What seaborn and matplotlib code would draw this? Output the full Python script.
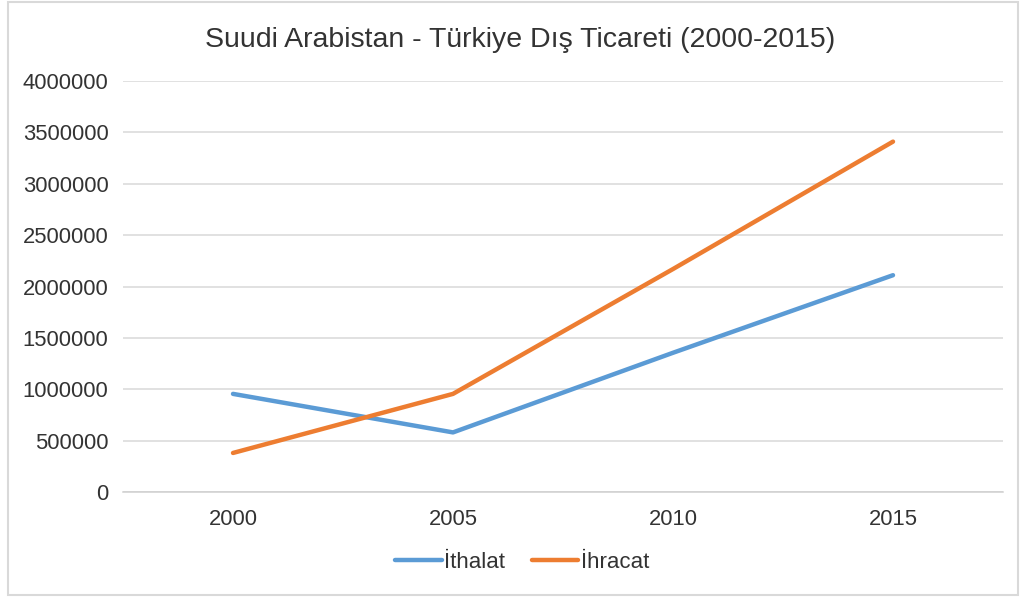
import seaborn as sns
import matplotlib.pyplot as plt
import pandas as pd
from matplotlib.patches import Rectangle
from matplotlib.ticker import FuncFormatter, FixedLocator

years = ["2000", "2005", "2010", "2015"]
ithalat = [955000, 580000, 1355000, 2110000]
ihracat = [380000, 955000, 2170000, 3410000]
series_names = ["İthalat", "İhracat"]
yticks = list(range(0, 4000001, 500000))

df = pd.DataFrame({
    "year": years * 2,
    "value": ithalat + ihracat,
    "series": [series_names[0]] * 4 + [series_names[1]] * 4,
})

sns.set_theme(style="white")
plt.rcParams["font.family"] = ["Liberation Sans", "DejaVu Sans"]

fig = plt.figure(figsize=(10.21, 5.97), dpi=100)
ax = fig.add_axes([123 / 1021, 1 - 492 / 597, 880 / 1021, 411 / 597])

sns.lineplot(data=df, x="year", y="value", hue="series",
             palette=["#5B9BD5", "#ED7D31"], linewidth=3.2, ax=ax,
             sort=False, legend=True)

ax.set_xlim(-0.5, 3.5)
ax.set_ylim(0, 4000000)
ax.set_yticks(yticks)
ax.yaxis.set_major_formatter(FuncFormatter(lambda v, p: f"{int(v)}"))
ax.grid(axis="y", color="#D9D9D9", linewidth=1.1)
ax.set_axisbelow(True)
for s in ["top", "right", "left"]:
    ax.spines[s].set_visible(False)
ax.spines["bottom"].set_color("#D0D0D0")
ax.spines["bottom"].set_linewidth(1.1)

ax.tick_params(axis="y", length=0, pad=10.5, labelsize=15.8, labelcolor="#333333")
ax.tick_params(axis="x", which="major", length=0, pad=12, labelsize=15.8, labelcolor="#333333")
ax.xaxis.set_minor_locator(FixedLocator([-0.5, 0.5, 1.5, 2.5, 3.5]))
ax.tick_params(axis="x", which="minor", length=5, width=1.1, color="#D0D0D0", direction="out")
ax.set_xlabel("")
ax.set_ylabel("")

fig.text(520 / 1021, 1 - 40 / 597, "Suudi Arabistan - Türkiye Dış Ticareti (2000-2015)",
         ha="center", va="center", fontsize=20.5, color="#333333")

handles, labels = ax.get_legend_handles_labels()
ax.legend(handles, labels, loc="center", bbox_to_anchor=(522 / 1021, 1 - 562 / 597),
          bbox_transform=fig.transFigure, ncol=2, frameon=False, fontsize=16,
          handlelength=2.1, handletextpad=0.1, columnspacing=1.2,
          labelcolor="#333333")

fig.patches.append(Rectangle((8 / 1021, 2 / 597), 1010 / 1021, 593 / 597,
                             transform=fig.transFigure, fill=False,
                             edgecolor="#D9D9D9", linewidth=1.5))

fig.savefig("out.png", dpi=100, facecolor="white")
